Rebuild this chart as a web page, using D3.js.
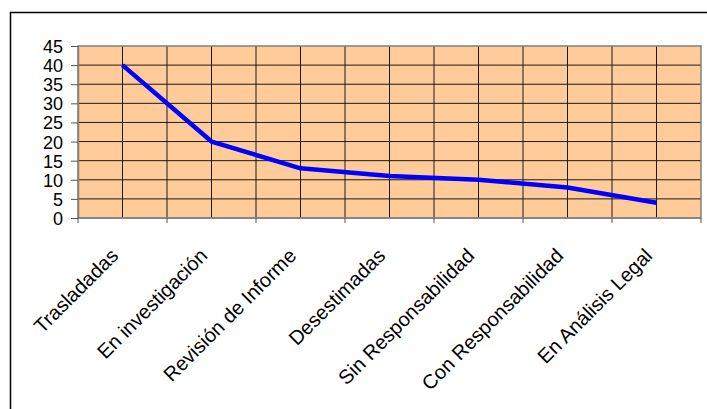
<!DOCTYPE html>
<html><head><meta charset="utf-8">
<script src="https://cdn.jsdelivr.net/npm/d3@7"></script>
<style>html,body{margin:0;padding:0;background:#fff;overflow:hidden}</style>
</head><body>
<svg id="c" width="707" height="409"></svg>
<script>
const categories = ["Trasladadas","En investigación","Revisión de Informe","Desestimadas","Sin Responsabilidad","Con Responsabilidad","En Análisis Legal"];
const values = [40, 20, 13, 11, 10, 8, 4];
const yTicks = [0,5,10,15,20,25,30,35,40,45];

const svg = d3.select("#c");
const L = 78, R = 701, T = 46, B = 218;

svg.append("rect").attr("x",10.5).attr("y",12.5).attr("width",720).attr("height",420)
  .attr("fill","#fff").attr("stroke","#000").attr("stroke-width",1.5);

const x = d3.scaleBand().domain(categories).range([L,R]).padding(0);
const y = d3.scaleLinear().domain([0,45]).range([B,T]);
const bw = x.bandwidth();

svg.append("rect").attr("x",L).attr("y",T).attr("width",R-L).attr("height",B-T).attr("fill","#FFCC99");

// horizontal gridlines
svg.append("g").selectAll("line").data(yTicks.slice(1,-1)).join("line")
  .attr("x1",L).attr("x2",R).attr("y1",d=>y(d)).attr("y2",d=>y(d))
  .attr("stroke","#1a1a1a").attr("stroke-width",1);
// vertical gridlines at boundaries and centers
const vlines = [];
categories.forEach((c,i)=>{ if(i>0) vlines.push(x(c)); vlines.push(x(c)+bw/2); });
svg.append("g").selectAll("line").data(vlines).join("line")
  .attr("x1",d=>d).attr("x2",d=>d).attr("y1",T).attr("y2",B)
  .attr("stroke","#1a1a1a").attr("stroke-width",1);

// plot border
svg.append("rect").attr("x",L).attr("y",T).attr("width",R-L).attr("height",B-T)
  .attr("fill","none").attr("stroke","#808080").attr("stroke-width",1.5);

// y axis
const ya = svg.append("g").attr("transform",`translate(${L},0)`)
  .call(d3.axisLeft(y).tickValues(yTicks).tickSize(7).tickSizeOuter(0).tickPadding(8));
ya.select(".domain").attr("stroke","#808080").attr("stroke-width",1.5);
ya.selectAll(".tick line").attr("stroke","#555");
ya.selectAll("text").attr("font-family","'Liberation Sans', Arial, sans-serif")
  .attr("font-size",18).attr("fill","#000").attr("dy","0.36em");

// x axis ticks at category boundaries
const bounds = categories.map(c=>x(c)).concat([R]);
svg.append("line").attr("x1",L).attr("x2",R).attr("y1",B).attr("y2",B).attr("stroke","#808080").attr("stroke-width",1.5);
svg.append("g").selectAll("line").data(bounds).join("line")
  .attr("x1",d=>d).attr("x2",d=>d).attr("y1",B).attr("y2",B+5)
  .attr("stroke","#555").attr("stroke-width",1);

// x labels
svg.append("g").selectAll("text").data(categories).join("text")
  .attr("transform",c=>`translate(${x(c)+bw/2-3},257) rotate(-45)`)
  .attr("text-anchor","end")
  .attr("font-family","'Liberation Sans', Arial, sans-serif")
  .attr("font-size",20).attr("fill","#000")
  .text(c=>c);

// line
const line = d3.line().x((d,i)=>x(categories[i])+bw/2).y(d=>y(d));
svg.append("path").datum(values).attr("d",line)
  .attr("fill","none").attr("stroke","#0000FF").attr("stroke-width",4.5).attr("stroke-linejoin","round");
</script>
</body></html>
